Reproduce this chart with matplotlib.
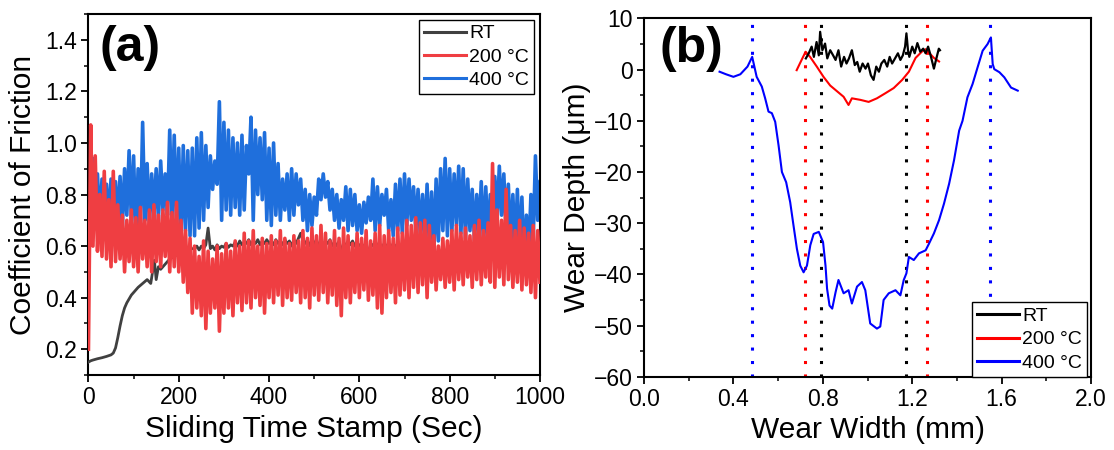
import numpy as np
import matplotlib.pyplot as plt
from matplotlib.ticker import MultipleLocator, FormatStrFormatter

plt.rcParams['font.family'] = ['Liberation Sans', 'DejaVu Sans']

# ---------------- (a) coefficient of friction ----------------
# RT curve
rt_time_early = [0, 5, 10, 20, 30, 40, 50, 55, 60, 65, 70, 75, 80, 85, 90, 95,
                 100, 110, 120, 130, 138, 146, 150, 155, 160, 170, 180, 190,
                 200, 210, 220, 230]
rt_cof_early = [0.150, 0.155, 0.158, 0.163, 0.167, 0.172, 0.178, 0.185, 0.205,
                0.245, 0.29, 0.33, 0.36, 0.38, 0.395, 0.41, 0.42, 0.44, 0.455,
                0.47, 0.455, 0.545, 0.47, 0.52, 0.51, 0.53, 0.55, 0.56, 0.57,
                0.58, 0.585, 0.59]
rt_time_late = np.arange(235, 695, 5)
rt_cof_late = [0.59, 0.60, 0.585, 0.60, 0.59, 0.605, 0.67, 0.59, 0.60, 0.585,
               0.605, 0.59, 0.60, 0.595, 0.61, 0.595, 0.605, 0.60, 0.615, 0.60,
               0.62, 0.605, 0.615, 0.61, 0.625, 0.605, 0.62, 0.61, 0.625, 0.605,
               0.62, 0.61, 0.625, 0.61, 0.62, 0.605, 0.625, 0.61, 0.62, 0.605,
               0.625, 0.61, 0.62, 0.60, 0.625, 0.61, 0.63, 0.65, 0.62, 0.61,
               0.625, 0.60, 0.62, 0.61, 0.625, 0.60, 0.62, 0.605, 0.62, 0.61,
               0.625, 0.60, 0.615, 0.60, 0.62, 0.57, 0.615, 0.60, 0.62, 0.605,
               0.62, 0.60, 0.615, 0.60, 0.61, 0.595, 0.61, 0.56, 0.61, 0.60,
               0.62, 0.60, 0.61, 0.595, 0.61, 0.60, 0.61, 0.595, 0.61, 0.60,
               0.605, 0.60]

# 200 C band: lower and upper swings of the noisy trace
c200_lo_time = np.arange(0, 1001, 10)
c200_lo = [0.20, 0.60, 0.58, 0.56, 0.55, 0.52, 0.54, 0.55, 0.50, 0.54,
           0.52, 0.50, 0.55, 0.52, 0.50, 0.54, 0.52, 0.56, 0.50, 0.52,
           0.50, 0.46, 0.42, 0.34, 0.36, 0.33, 0.28, 0.34, 0.36, 0.27,
           0.34, 0.36, 0.33, 0.38, 0.35, 0.38, 0.36, 0.40, 0.37, 0.34,
           0.40, 0.38, 0.41, 0.37, 0.40, 0.39, 0.42, 0.38, 0.40, 0.36,
           0.41, 0.39, 0.42, 0.38, 0.41, 0.37, 0.33, 0.40, 0.38, 0.42,
           0.40, 0.43, 0.39, 0.41, 0.36, 0.34, 0.40, 0.42, 0.38, 0.41,
           0.43, 0.40, 0.44, 0.42, 0.45, 0.40, 0.46, 0.43, 0.47, 0.44,
           0.46, 0.43, 0.47, 0.45, 0.48, 0.44, 0.47, 0.45, 0.48, 0.46,
           0.44, 0.48, 0.45, 0.47, 0.44, 0.46, 0.43, 0.45, 0.42, 0.40,
           0.46]
c200_hi_time = np.arange(5, 1000, 10)
c200_hi = [1.07, 0.95, 0.80, 0.89, 0.78, 0.89, 0.76, 0.72, 0.70, 0.74,
           0.71, 0.75, 0.70, 0.74, 0.76, 0.72, 0.74, 0.77, 0.73, 0.77,
           0.70, 0.66, 0.63, 0.60, 0.56, 0.62, 0.58, 0.55, 0.60, 0.57,
           0.61, 0.58, 0.62, 0.60, 0.65, 0.62, 0.66, 0.60, 0.63, 0.61,
           0.64, 0.62, 0.66, 0.63, 0.61, 0.64, 0.62, 0.66, 0.63, 0.67,
           0.64, 0.68, 0.65, 0.62, 0.66, 0.63, 0.67, 0.64, 0.61, 0.65,
           0.63, 0.66, 0.62, 0.65, 0.68, 0.64, 0.66, 0.63, 0.67, 0.65,
           0.70, 0.68, 0.71, 0.69, 0.70, 0.68, 0.64, 0.60, 0.63, 0.62,
           0.66, 0.68, 0.65, 0.67, 0.64, 0.68, 0.70, 0.66, 0.69, 0.92,
           0.74, 0.70, 0.82, 0.68, 0.66, 0.70, 0.67, 0.65, 0.68, 0.66]

# 400 C band
c400_hi_time = np.arange(0, 1001, 10)
c400_hi = [0.78, 0.94, 0.88, 0.86, 0.84, 0.86, 0.85, 0.87, 0.90, 0.97,
           0.95, 0.90, 1.08, 0.92, 0.88, 0.90, 0.93, 0.88, 1.05, 1.03,
           0.98, 0.99, 0.97, 0.98, 1.02, 1.04, 0.99, 0.95, 0.93, 1.16,
           1.08, 1.05, 1.02, 1.00, 1.03, 0.99, 1.10, 1.05, 1.02, 1.04,
           0.98, 1.00, 0.92, 0.86, 0.88, 0.90, 0.88, 0.86, 0.82, 0.80,
           0.79, 0.86, 0.88, 0.85, 0.82, 0.80, 0.78, 0.83, 0.82, 0.80,
           0.76, 0.77, 0.79, 0.86, 0.83, 0.80, 0.82, 0.78, 0.84, 0.86,
           0.88, 0.86, 0.83, 0.82, 0.80, 0.84, 0.81, 0.86, 0.90, 0.94,
           0.90, 0.88, 0.91, 0.90, 0.86, 0.82, 0.80, 0.85, 0.83, 0.80,
           0.87, 0.91, 0.88, 0.84, 0.80, 0.82, 0.79, 0.72, 0.80, 0.95,
           0.85]
c400_lo_time = np.arange(5, 1000, 10)
c400_lo = [0.76, 0.72, 0.68, 0.64, 0.70, 0.68, 0.70, 0.67, 0.72, 0.70,
           0.62, 0.66, 0.70, 0.68, 0.72, 0.70, 0.74, 0.72, 0.70, 0.68,
           0.62, 0.66, 0.64, 0.64, 0.67, 0.70, 0.75, 0.82, 0.84, 0.70,
           0.74, 0.72, 0.75, 0.72, 0.74, 0.88, 0.70, 0.80, 0.78, 0.70,
           0.68, 0.72, 0.70, 0.74, 0.70, 0.72, 0.76, 0.70, 0.66, 0.68,
           0.72, 0.78, 0.79, 0.74, 0.70, 0.67, 0.70, 0.66, 0.68, 0.66,
           0.65, 0.69, 0.70, 0.66, 0.68, 0.72, 0.66, 0.64, 0.66, 0.65,
           0.68, 0.70, 0.66, 0.64, 0.62, 0.60, 0.57, 0.62, 0.66, 0.64,
           0.66, 0.68, 0.65, 0.63, 0.66, 0.62, 0.64, 0.60, 0.62, 0.66,
           0.70, 0.72, 0.66, 0.60, 0.58, 0.56, 0.52, 0.55, 0.62, 0.70]

# ---------------- (b) wear profiles ----------------
p400_x = [0.338, 0.367, 0.40, 0.431, 0.463, 0.484, 0.504, 0.527, 0.542, 0.557,
          0.572, 0.587, 0.602, 0.617, 0.636, 0.654, 0.669, 0.684, 0.699, 0.714,
          0.729, 0.744, 0.759, 0.782, 0.801, 0.812, 0.819, 0.83, 0.842, 0.857,
          0.87, 0.893, 0.915, 0.93, 0.953, 0.975, 0.99, 1.012, 1.042, 1.057,
          1.072, 1.095, 1.125, 1.147, 1.162, 1.174, 1.185, 1.207, 1.23, 1.26,
          1.275, 1.297, 1.32, 1.342, 1.365, 1.387, 1.41, 1.425, 1.447, 1.47,
          1.492, 1.515, 1.537, 1.552, 1.56, 1.567, 1.59, 1.612, 1.642, 1.672]
p400_y = [-0.4, -0.9, -1.4, -0.9, 0.6, 2.5, -1.4, -3.3, -5.6, -8.2,
          -8.5, -10.2, -14.8, -20.0, -22.0, -25.9, -30.5, -35.0, -38.3, -39.6,
          -38.3, -34.3, -32.1, -31.7, -33.7, -38.3, -42.8, -46.1, -46.7, -43.5,
          -41.1, -43.7, -43.1, -45.7, -42.4, -41.5, -43.1, -49.6, -50.6, -50.2,
          -45.0, -43.7, -43.1, -44.1, -41.1, -39.8, -36.6, -37.2, -35.9, -35.3,
          -34.0, -32.0, -29.4, -26.2, -22.3, -17.7, -11.9, -10.0, -5.4, -2.8,
          0.4, 3.7, 5.0, 6.3, 1.1, 0.1, -0.5, -1.5, -3.5, -4.1]

p200_x = [0.683, 0.705, 0.723, 0.743, 0.773, 0.803, 0.833, 0.863, 0.893, 0.915,
          0.93, 0.968, 1.005, 1.042, 1.08, 1.117, 1.155, 1.185, 1.215, 1.245,
          1.26, 1.275, 1.297, 1.32]
p200_y = [-0.1, 1.9, 3.5, 2.5, 0.6, -1.4, -3.1, -4.2, -5.3, -6.9,
          -5.6, -5.9, -6.3, -5.6, -4.6, -3.6, -2.0, -0.4, 2.3, 3.6,
          4.0, 3.3, 2.3, 1.6]

prt_x = [0.724, 0.737, 0.75, 0.76, 0.772, 0.782, 0.788, 0.798, 0.81, 0.82,
         0.833, 0.846, 0.857, 0.87, 0.882, 0.895, 0.906, 0.917, 0.93, 0.943,
         0.954, 0.965, 0.978, 0.991, 1.002, 1.015, 1.027, 1.039, 1.051, 1.062,
         1.075, 1.088, 1.099, 1.11, 1.123, 1.136, 1.147, 1.158, 1.168, 1.174,
         1.181, 1.187, 1.2, 1.211, 1.223, 1.236, 1.249, 1.26, 1.271, 1.284,
         1.297, 1.308, 1.319, 1.324]
prt_y = [2.2, 3.2, 4.5, 2.5, 5.4, 2.8, 7.4, 3.8, 5.1, 2.2,
         3.8, 2.8, 1.9, 3.8, 0.6, 2.5, 1.2, 2.2, 3.8, 0.9,
         1.5, -0.4, 1.2, 0.2, 1.2, -1.1, -2.0, 0.6, -0.4, 1.2,
         1.9, 0.6, 2.5, 1.2, 2.2, 3.2, 1.9, 2.8, 4.5, 7.1,
         3.8, 2.5, 4.5, 3.2, 5.2, 3.5, 4.1, 3.2, 4.5, 2.5,
         0.2, 2.2, 4.1, 3.8]

# track edges (dotted markers)
rt_edges = [0.79, 1.17]
c200_edges = [0.722, 1.267]
c400_edges = [0.483, 1.548]

labels = ["RT", "200 \u00b0C", "400 \u00b0C"]


def zigzag(t1, v1, t2, v2):
    t = np.concatenate([np.asarray(t1, float), np.asarray(t2, float)])
    v = np.concatenate([np.asarray(v1, float), np.asarray(v2, float)])
    order = np.argsort(t, kind="stable")
    return t[order], v[order]


def style_axes(ax):
    for s in ax.spines.values():
        s.set_linewidth(1.5)
    ax.tick_params(which="major", direction="out", length=5, width=1.3,
                   labelsize=16.5, pad=3)
    ax.tick_params(which="minor", direction="out", length=3, width=1.1)


fig = plt.figure(figsize=(11.14, 4.5), dpi=100)

# ---- panel a ----
ax1 = fig.add_axes([0.0794, 0.1667, 0.4053, 0.802])
t400, v400 = zigzag(c400_hi_time, c400_hi, c400_lo_time, c400_lo)
t200, v200 = zigzag(c200_lo_time, c200_lo, c200_hi_time, c200_hi)
rt_t = np.concatenate([rt_time_early, rt_time_late])
rt_v = np.concatenate([rt_cof_early, rt_cof_late])

l400, = ax1.plot(t400, v400, color="#1f6fdc", lw=2.6, zorder=2)
lrt, = ax1.plot(rt_t, rt_v, color="#404040", lw=2.0, zorder=3)
l200, = ax1.plot(t200, v200, color="#ef3e42", lw=2.6, zorder=4)

ax1.set_xlim(0, 1000)
ax1.set_ylim(0.1, 1.5)
ax1.xaxis.set_major_locator(MultipleLocator(200))
ax1.xaxis.set_minor_locator(MultipleLocator(100))
ax1.yaxis.set_major_locator(MultipleLocator(0.2))
ax1.yaxis.set_minor_locator(MultipleLocator(0.1))
ax1.yaxis.set_major_formatter(FormatStrFormatter("%.1f"))
style_axes(ax1)
ax1.set_xlabel("Sliding Time Stamp (Sec)", fontsize=21.5, labelpad=4)
ax1.set_ylabel("Coefficient of Friction", fontsize=21.5, labelpad=6)
ax1.text(0.024, 0.905, "(a)", transform=ax1.transAxes, fontsize=36,
         fontweight="bold", ha="left", va="center")
leg1 = ax1.legend([lrt, l200, l400], labels, loc="upper right", fontsize=14,
                  frameon=True, fancybox=False, framealpha=1, edgecolor="black",
                  borderaxespad=0.3, borderpad=0.25, handlelength=2.2,
                  handletextpad=0.15, labelspacing=0.3)
leg1.get_frame().set_linewidth(1.0)
for h in leg1.get_lines():
    h.set_linewidth(2.2)

# ---- panel b ----
ax2 = fig.add_axes([0.5781, 0.1629, 0.4013, 0.796])
for xe in c400_edges:
    ax2.axvline(xe, color="#0000ff", lw=2.2, ls=(0, (1, 3.4)), zorder=1)
for xe in c200_edges:
    ax2.axvline(xe, color="#ff0000", lw=2.2, ls=(0, (1, 3.4)), zorder=1)
for xe in rt_edges:
    ax2.axvline(xe, color="#000000", lw=2.2, ls=(0, (1, 3.4)), zorder=1)

m400, = ax2.plot(p400_x, p400_y, color="#0000ff", lw=1.5, zorder=2)
m200, = ax2.plot(p200_x, p200_y, color="#ff0000", lw=1.5, zorder=3)
mrt, = ax2.plot(prt_x, prt_y, color="#000000", lw=1.6, zorder=4)

ax2.set_xlim(0, 2.0)
ax2.set_ylim(-60, 10)
ax2.xaxis.set_major_locator(MultipleLocator(0.4))
ax2.xaxis.set_minor_locator(MultipleLocator(0.2))
ax2.xaxis.set_major_formatter(FormatStrFormatter("%.1f"))
ax2.yaxis.set_major_locator(MultipleLocator(10))
ax2.yaxis.set_minor_locator(MultipleLocator(5))
style_axes(ax2)
ax2.set_xlabel("Wear Width (mm)", fontsize=21.5, labelpad=4)
ax2.set_ylabel("Wear Depth (\u03bcm)", fontsize=21.5, labelpad=2)
ax2.text(0.035, 0.915, "(b)", transform=ax2.transAxes, fontsize=36,
         fontweight="bold", ha="left", va="center")
leg2 = ax2.legend([mrt, m200, m400], labels, loc="lower right",
                  bbox_to_anchor=(0.991, 0.0), fontsize=14, frameon=True,
                  fancybox=False, framealpha=1, edgecolor="black",
                  borderaxespad=0.0, borderpad=0.25, handlelength=2.2,
                  handletextpad=0.15, labelspacing=0.3)
leg2.get_frame().set_linewidth(1.0)
for h in leg2.get_lines():
    h.set_linewidth(2.2)

fig.savefig("out.png", dpi=100)
